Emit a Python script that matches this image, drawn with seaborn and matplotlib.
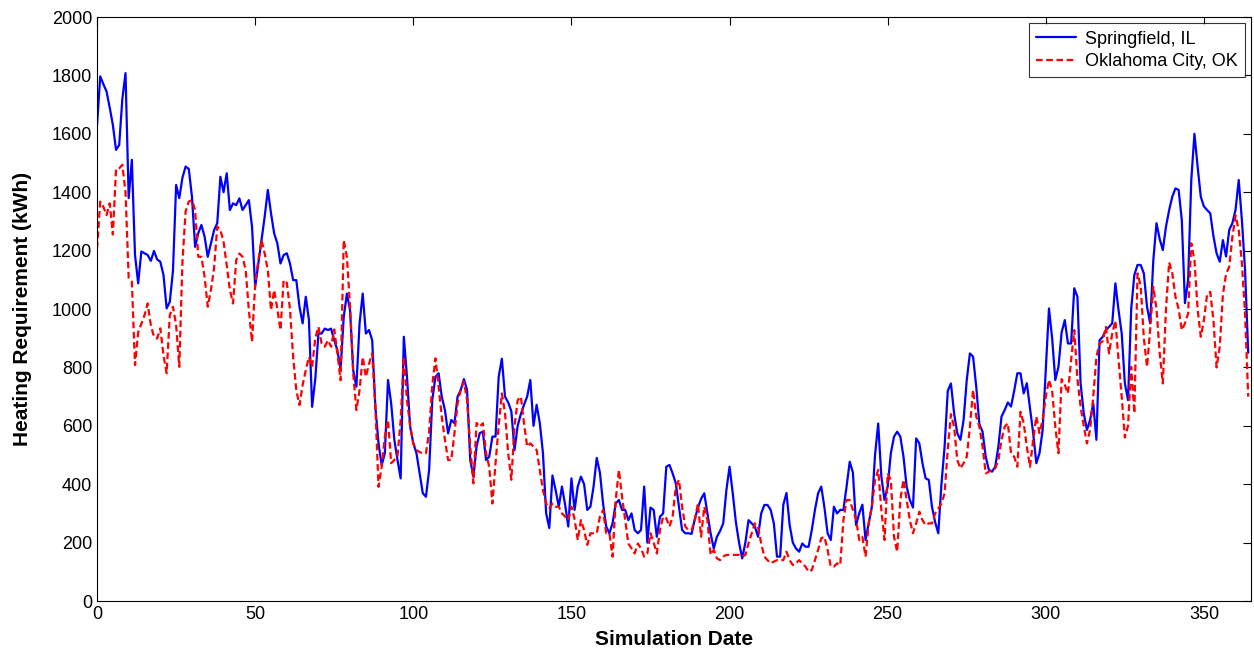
import matplotlib
matplotlib.use("Agg")
import matplotlib.pyplot as plt
import seaborn as sns
import pandas as pd

# Daily heating requirement (kWh), day 0..364
springfield = [
    1630, 1797, 1770, 1745, 1690, 1630, 1545, 1562, 1720, 1808,
    1380, 1511, 1185, 1088, 1197, 1191, 1185, 1165, 1199, 1170,
    1162, 1117, 1002, 1025, 1130, 1425, 1380, 1450, 1488, 1480,
    1385, 1213, 1260, 1288, 1248, 1179, 1225, 1270, 1294, 1453,
    1400, 1465, 1339, 1362, 1356, 1379, 1339, 1356, 1373, 1282,
    1076, 1156, 1236, 1316, 1408, 1328, 1259, 1225, 1156, 1185,
    1191, 1156, 1099, 1099, 1008, 951, 1042, 962, 665, 760,
    916, 916, 933, 928, 933, 893, 859, 791, 973, 1053,
    996, 790, 734, 950, 1053, 916, 928, 893, 665, 540,
    465, 506, 757, 677, 552, 483, 420, 905, 768, 597,
    540, 506, 438, 369, 357, 449, 688, 768, 780, 700,
    654, 574, 620, 609, 700, 723, 760, 723, 483, 426,
    529, 575, 580, 483, 494, 563, 563, 768, 830, 700,
    680, 650, 517, 600, 640, 672, 700, 757, 600, 672,
    609, 506, 300, 250, 430, 380, 323, 392, 330, 255,
    420, 312, 392, 426, 400, 312, 323, 392, 490, 440,
    334, 255, 232, 266, 334, 346, 312, 312, 277, 300,
    243, 232, 243, 392, 200, 320, 312, 220, 289, 300,
    460, 466, 437, 403, 323, 243, 232, 232, 230, 280,
    320, 350, 369, 300, 232, 180, 220, 240, 266, 380,
    460, 370, 270, 200, 146, 200, 277, 266, 255, 220,
    300, 329, 329, 312, 266, 152, 152, 330, 370, 260,
    200, 180, 169, 197, 186, 186, 243, 312, 369, 392,
    320, 232, 209, 323, 300, 312, 312, 392, 477, 440,
    260, 300, 330, 209, 266, 323, 500, 608, 426, 346,
    392, 506, 563, 580, 563, 494, 392, 346, 320, 557,
    540, 472, 420, 415, 323, 270, 232, 400, 529, 720,
    745, 643, 575, 552, 620, 757, 848, 837, 734, 605,
    580, 494, 449, 443, 460, 529, 632, 654, 680, 666,
    720, 780, 780, 711, 746, 660, 575, 472, 506, 586,
    791, 1002, 900, 757, 802, 920, 962, 882, 882, 1071,
    1042, 745, 643, 586, 620, 677, 552, 893, 905, 928,
    939, 951, 1088, 996, 916, 745, 688, 1000, 1117, 1151,
    1151, 1122, 1008, 951, 1168, 1294, 1240, 1202, 1282, 1339,
    1385, 1413, 1408, 1305, 1020, 1099, 1442, 1600, 1488, 1385,
    1351, 1339, 1328, 1250, 1191, 1162, 1236, 1180, 1271, 1294,
    1340, 1442, 1305, 1134, 850,
]

oklahoma_city = [
    1208, 1368, 1350, 1322, 1362, 1255, 1480, 1482, 1494, 1400,
    1105, 1094, 808, 920, 950, 979, 1019, 945, 905, 899,
    934, 842, 780, 979, 1008, 945, 802, 1162, 1334, 1368,
    1373, 1339, 1179, 1179, 1111, 1008, 1065, 1140, 1282, 1271,
    1230, 1150, 1065, 1019, 1168, 1190, 1179, 1133, 996, 888,
    1088, 1168, 1236, 1190, 1133, 996, 1065, 1000, 928, 1099,
    1090, 1000, 836, 722, 671, 740, 790, 836, 802, 900,
    939, 882, 871, 893, 871, 930, 848, 756, 1236, 1179,
    1008, 779, 654, 722, 836, 768, 813, 848, 665, 391,
    460, 563, 620, 472, 483, 495, 620, 837, 688, 600,
    540, 517, 510, 506, 506, 580, 740, 831, 734, 631,
    552, 483, 483, 574, 677, 723, 751, 688, 529, 403,
    610, 597, 609, 506, 460, 334, 472, 600, 711, 643,
    506, 415, 597, 688, 700, 609, 529, 540, 529, 517,
    449, 380, 334, 317, 334, 323, 323, 300, 289, 277,
    323, 280, 209, 277, 243, 192, 232, 232, 232, 289,
    312, 232, 232, 152, 346, 449, 357, 277, 197, 180,
    163, 197, 180, 152, 163, 232, 200, 163, 243, 289,
    283, 255, 289, 392, 415, 323, 255, 243, 243, 277,
    334, 220, 323, 277, 158, 175, 146, 140, 152, 158,
    158, 158, 158, 158, 152, 158, 198, 232, 266, 255,
    197, 152, 140, 129, 135, 140, 140, 140, 169, 140,
    123, 129, 140, 129, 118, 100, 106, 140, 175, 215,
    220, 175, 118, 118, 129, 123, 277, 346, 346, 312,
    280, 209, 220, 152, 266, 323, 415, 449, 312, 209,
    437, 415, 220, 169, 346, 415, 346, 277, 232, 266,
    306, 277, 260, 266, 266, 300, 317, 334, 369, 520,
    640, 597, 483, 454, 472, 494, 597, 723, 632, 597,
    529, 437, 443, 449, 454, 483, 552, 597, 609, 506,
    494, 460, 648, 609, 529, 460, 552, 632, 575, 620,
    700, 757, 720, 597, 506, 760, 740, 711, 825, 928,
    760, 666, 600, 540, 586, 700, 836, 882, 890, 939,
    848, 916, 960, 825, 700, 560, 600, 802, 643, 1122,
    1080, 900, 802, 930, 1076, 1000, 850, 745, 1000, 1160,
    1122, 1042, 1000, 928, 951, 985, 1225, 1168, 1000, 905,
    962, 1050, 1059, 962, 800, 871, 1050, 1120, 1145, 1248,
    1320, 1271, 1157, 985, 700,
]

days = list(range(len(springfield)))

df = pd.DataFrame({
    "Simulation Date": days + days,
    "Heating Requirement (kWh)": springfield + oklahoma_city,
    "City": ["Springfield, IL"] * len(days) + ["Oklahoma City, OK"] * len(days),
})

sns.set_style("white")
plt.rcParams["font.family"] = ["Liberation Sans", "DejaVu Sans"]
plt.rcParams["text.color"] = "black"
plt.rcParams["axes.labelcolor"] = "black"

fig = plt.figure(figsize=(12.54, 6.58), dpi=100)
ax = fig.add_axes([0.0774, 0.0866, 0.9205, 0.8875])

sns.lineplot(data=df, x="Simulation Date", y="Heating Requirement (kWh)",
             hue="City", style="City",
             palette={"Springfield, IL": "#0000ff", "Oklahoma City, OK": "#ff0000"},
             dashes={"Springfield, IL": "", "Oklahoma City, OK": (3, 1.6)},
             linewidth=1.6, ax=ax)

ax.set_xlim(0, 365)
ax.set_ylim(0, 2000)
ax.set_xticks(range(0, 351, 50))
ax.set_yticks(range(0, 2001, 200))
ax.tick_params(direction="in", length=6, width=0.8, top=True, right=True,
               labelsize=13, colors="black")
for s in ax.spines.values():
    s.set_color("black")
    s.set_linewidth(0.8)

ax.set_xlabel("Simulation Date", fontsize=15, fontweight="bold", labelpad=5)
ax.set_ylabel("Heating Requirement (kWh)", fontsize=15, fontweight="bold", labelpad=14)

leg = ax.legend(loc="upper right", fontsize=13, frameon=True, fancybox=False,
                edgecolor="black", borderaxespad=0.35, handlelength=2.2,
                handletextpad=0.5, borderpad=0.4, labelspacing=0.3)
leg.get_frame().set_linewidth(0.8)
for t in leg.get_texts():
    t.set_color("black")

fig.savefig("out.png", dpi=100)
